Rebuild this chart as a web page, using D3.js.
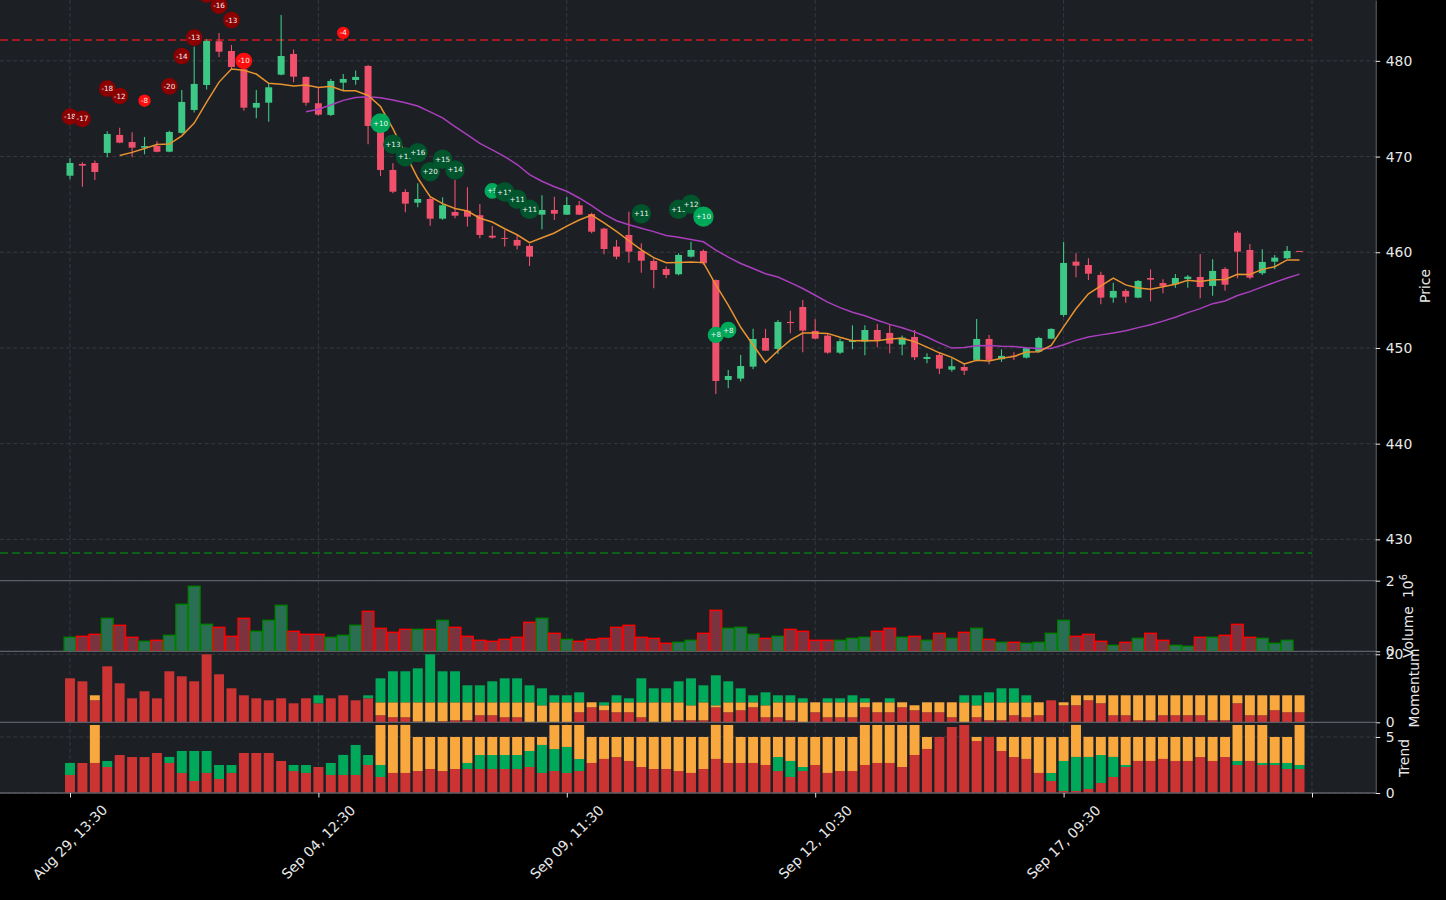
<!DOCTYPE html>
<html><head><meta charset="utf-8">
<script src="https://cdn.jsdelivr.net/npm/d3@7"></script>
<style>
body{margin:0;background:#000;}
svg{display:block;}
text{font-family:"DejaVu Sans",sans-serif;}
</style>
</head><body>
<svg id="chart" width="1446" height="900"></svg>
<script>
// ---------- DATA ----------
const opens=[468.0,469.23,469.33,470.38,472.26,471.52,470.93,471.1,470.51,472.47,474.87,477.48,482.05,481.03,479.12,475.11,475.63,478.56,480.72,478.32,
475.57,474.35,477.72,478.0,479.47,473.65,468.6,466.3,465.18,465.57,463.51,464.21,464.35,463.87,461.73,461.5,461.29,460.66,463.93,464.42,
463.93,464.91,464.0,462.47,460.59,461.81,460.14,459.09,458.25,457.7,459.54,460.14,457.1,446.66,446.8,448.05,451.04,449.9,452.72,454.28,
451.78,451.29,449.51,450.63,450.66,451.88,451.57,450.35,451.15,448.85,449.27,447.73,448.01,448.75,450.94,448.82,449.2,448.99,449.61,450.97,
453.45,459.02,458.67,457.63,455.26,455.96,455.26,457.31,456.79,456.66,457.21,457.42,456.48,458.26,462.05,460.24,457.81,459.02,459.37,460.14];
const highs=[469.82,469.4,469.6,472.64,473.0,472.54,472.05,471.6,472.7,476.96,481.48,482.26,482.9,481.66,479.4,476.96,477.6,484.8,481.2,478.4,
477.2,478.1,478.63,479.0,479.57,473.8,469.3,466.58,467.2,465.75,465.75,467.55,466.8,465.05,462.75,462.33,461.8,460.87,465.96,465.8,
465.8,465.36,464.14,462.57,461.29,464.24,460.94,459.37,458.5,459.9,461.11,460.3,457.15,447.7,449.27,452.0,452.0,452.93,453.9,455.0,
453.0,451.46,451.0,452.37,452.37,452.5,452.5,451.29,451.88,449.44,449.44,448.92,448.4,453.03,451.36,449.86,449.55,450.1,451.18,452.06,
461.08,459.9,459.37,457.97,456.82,456.17,457.1,458.22,457.18,457.73,457.63,459.82,459.27,458.43,462.23,460.87,460.31,459.72,460.66,460.14];
const lows=[467.63,466.85,467.55,469.93,471.4,469.93,470.24,470.45,470.45,472.4,474.6,477.0,480.4,479.05,474.8,474.0,473.65,478.5,477.76,475.3,
474.3,474.24,476.96,477.5,471.28,467.97,466.17,464.18,464.7,462.78,463.4,463.55,462.68,461.46,461.42,460.59,460.3,458.57,462.4,463.38,
463.9,463.9,461.98,459.79,459.27,458.91,457.87,456.24,457.28,457.6,459.45,458.7,445.19,445.8,446.5,447.77,449.7,449.37,451.54,449.55,
450.9,449.4,449.37,449.86,449.24,450.07,449.45,449.24,448.75,448.4,447.28,447.52,447.18,448.6,448.3,448.54,448.75,448.9,449.5,450.9,
453.27,457.39,457.1,454.57,454.73,454.73,455.2,454.88,455.72,456.3,456.3,455.19,455.46,455.99,457.28,457.18,457.63,458.22,459.3,460.06];
const closes=[469.33,469.05,468.39,472.36,471.45,470.93,471.1,470.5,472.57,475.71,477.59,482.08,480.96,479.36,475.11,475.6,477.24,480.51,478.35,475.63,
474.38,477.9,478.11,478.32,473.2,468.6,466.33,465.08,465.57,463.51,464.91,463.82,463.72,461.81,461.53,461.4,460.69,459.54,464.42,464.03,
464.94,463.93,462.15,460.34,459.54,460.06,459.12,458.15,457.63,459.72,460.24,458.85,446.55,447.07,448.11,450.94,449.72,452.72,452.6,451.81,
450.97,449.51,450.7,450.8,451.88,450.84,450.45,451.08,449.03,449.06,447.84,448.09,447.63,450.94,448.75,449.17,449.1,449.97,451.04,451.99,
458.88,458.6,457.76,455.26,455.96,455.36,457.0,457.14,456.48,457.31,457.45,456.37,458.05,456.61,460.06,457.35,458.99,459.44,460.14,460.06];
// volume in millions
const volumes=[0.396,0.424,0.481,0.934,0.736,0.396,0.283,0.311,0.452,1.331,1.841,0.764,0.679,0.424,0.934,0.566,0.877,1.302,0.566,0.481,
0.481,0.396,0.452,0.736,1.132,0.651,0.537,0.622,0.622,0.622,0.877,0.679,0.424,0.311,0.283,0.339,0.396,0.821,0.934,0.509,
0.339,0.283,0.339,0.367,0.679,0.736,0.396,0.367,0.226,0.254,0.311,0.509,1.16,0.651,0.679,0.481,0.367,0.424,0.622,0.566,
0.311,0.311,0.311,0.367,0.396,0.566,0.651,0.396,0.424,0.311,0.509,0.367,0.537,0.651,0.339,0.254,0.254,0.226,0.254,0.509,
0.877,0.424,0.481,0.283,0.169,0.254,0.367,0.509,0.311,0.169,0.141,0.396,0.396,0.452,0.764,0.396,0.367,0.226,0.311,0];
// momentum components (stack: red, orange, green)
const momRed=[12.94,12.06,6.47,16.47,11.47,7.06,9.12,7.06,15.0,13.53,12.06,20.0,14.12,10.0,7.94,7.06,6.47,7.06,5.59,7.06,
5.59,7.06,7.94,6.47,7.06,2.06,1.47,1.47,0.2,0,0.3,0.59,0.59,2.06,2.06,1.47,1.47,0,0,0,
0,2.94,4.41,3.53,2.94,2.94,1.47,0,0,0.59,0.59,0.59,4.41,2.94,3.53,4.41,1.47,1.47,0.59,0,
2.94,1.47,1.47,1.47,4.41,2.94,2.94,4.41,3.53,2.94,2.94,1.47,0,1.47,0.59,0.59,2.06,1.47,2.06,6.47,
5.0,5.0,6.47,5.59,2.06,2.06,0.59,0.59,2.06,2.06,2.06,2.06,0.59,0.59,5.59,2.06,2.06,3.53,2.94,2.94];
const momOrange=[0,0,1.47,0,0,0,0,0,0,0,0,0,0,0,0,0,0,0,0,0,
0,0,0,0,0,3.82,4.41,4.41,5.68,5.88,5.58,5.29,5.29,3.82,3.82,4.41,4.41,5.88,5.0,5.88,
5.88,2.94,1.47,1.47,2.94,2.94,4.41,5.88,5.88,5.29,4.41,5.29,0.59,2.94,2.35,1.47,3.53,4.41,5.29,5.88,
2.94,4.41,4.41,4.41,1.47,2.94,2.94,1.47,1.47,2.94,2.94,4.41,5.88,3.53,5.29,5.29,3.82,4.41,3.82,0,
0.88,2.94,1.47,2.35,5.88,5.88,7.35,7.35,5.88,5.88,5.88,5.88,7.35,7.35,2.35,5.88,5.88,4.41,5.0,5.0];
const momGreen=[0,0,0,0,0,0,0,0,0,0,0,0,0,0,0,0,0,0,0,0,
2.35,0,0,0,0.88,7.06,9.12,9.12,10.0,14.12,9.12,9.12,5.0,5.0,6.18,7.06,7.06,5.0,5.0,2.06,
2.06,2.94,0,0.88,2.06,1.18,7.06,4.12,4.12,6.18,7.94,5.0,8.82,6.18,4.12,2.06,3.82,2.06,2.06,1.18,
0,1.18,1.18,2.06,1.18,0,1.18,0,0,0,0,0,2.06,2.94,2.94,4.12,4.12,2.06,0,0,
0,0,0,0,0,0,0,0,0,0,0,0,0,0,0,0,0,0,0,0];
// trend components (stack: red, green, orange)
const trendRed=[1.61,2.68,2.68,2.32,3.39,3.21,3.21,3.57,2.68,1.79,1.07,1.79,1.25,1.79,3.57,3.57,3.57,2.86,1.96,1.79,
2.32,1.61,1.61,1.61,2.5,1.43,1.79,1.79,1.96,2.14,1.96,2.14,2.14,2.14,2.14,2.14,2.14,2.32,1.79,1.96,
1.79,1.96,2.68,3.04,3.21,2.86,2.32,2.14,2.14,1.96,1.79,2.14,3.04,2.68,2.68,2.68,2.5,1.96,1.43,1.96,
2.5,1.79,1.96,1.96,2.5,2.68,2.68,2.32,3.39,3.93,5.0,5.89,6.07,4.64,5.0,3.75,3.21,3.04,1.79,1.07,
0.18,0.18,0.36,0.89,1.43,2.32,2.86,2.86,3.04,2.86,2.86,3.21,2.86,3.21,2.5,2.86,2.5,2.5,2.14,2.14];
const trendGreen=[1.07,0,0,0.54,0,0,0,0,0.54,1.96,2.68,1.96,1.25,0.71,0,0,0,0,0.54,0.71,
0,1.07,1.79,2.68,0.89,1.07,0,0,0,0,0,0,0.54,1.25,1.25,1.25,1.25,1.43,2.5,1.96,
2.32,1.07,0,0,0,0,0,0,0,0,0,0,0,0,0,0,0,1.25,1.43,0.36,
0,0,0,0,0,0,0,0,0,0,0,0,0,0,0,0,0,0,0,0.71,
2.68,3.04,2.86,2.5,1.79,0.18,0,0,0,0,0,0,0,0,0.36,0,0.18,0.18,0.54,0.36];
const trendOrange=[0,0,3.39,0,0,0,0,0,0,0,0,0,0,0,0,0,0,0,0,0,
0,0,0,0,0,3.57,4.29,4.29,3.04,2.86,3.04,2.86,2.32,1.61,1.61,1.61,1.61,1.25,0.71,2.14,
1.96,3.04,2.32,1.96,1.79,2.14,2.68,2.86,2.86,3.04,3.21,2.86,3.04,3.39,2.32,2.32,2.5,1.79,2.14,2.68,
2.5,3.21,3.04,3.04,3.57,3.39,3.39,3.75,2.68,1.07,0,0,0,0.36,0,1.25,1.79,1.96,3.21,3.21,
2.14,2.86,1.79,1.61,1.79,2.5,2.14,2.14,1.96,2.14,2.14,1.79,2.14,1.79,3.21,3.21,3.39,2.32,2.32,3.57];
// signal markers
const sellIdx=[0,1,3,4,6,8,9,10,11,12,13,14,22];
const sellPrice=[474.17,473.93,477.1,476.33,475.84,477.34,480.51,482.42,486.95,485.77,484.27,479.99,482.92];
const sellLabel=["-18","-17","-18","-12","-8","-20","-14","-13","-15","-16","-13","-10","-4"];
const sellStrong=[0,0,0,0,1,0,0,0,0,0,0,1,1];
const sellSize=[144,144,144,144,80,144,144,144,144,144,144,144,80];
const buyIdx=[25,26,27,28,29,30,31,34,35,36,37,46,49,50,51,52,53];
const buyPrice=[473.48,471.29,469.99,470.41,468.42,469.72,468.6,466.41,466.3,465.54,464.49,464.03,464.49,465.02,463.72,451.36,451.88];
const buyLabel=["+10","+13","+11","+16","+20","+15","+14","+9","+11","+11","+11","+11","+13","+12","+10","+8","+8"];
const buyStrong=[1,0,0,0,0,0,0,1,0,0,0,0,0,0,1,1,1];
const buySize=[207,196,196,196,196,196,196,126,196,196,196,196,196,196,215,138,138];
// levels & ticks
const resistanceLevel=482.18, supportLevel=428.58;
const xTickIdx=[0,20,40,60,80,100];
const xTickLabels=["Aug 29, 13:30","Sep 04, 12:30","Sep 09, 11:30","Sep 12, 10:30","Sep 17, 09:30",""];
const priceTicks=[430,440,450,460,470,480];
const volTicks=[0,2], momTicks=[0,20], trendTicks=[0,5];

// ---------- LAYOUT ----------
const svg=d3.select("#chart");
const L=0, R=1375.7;
const P={top:0,bot:580.7}, V={top:580.7,bot:651.3}, M={top:651.3,bot:722.3}, T={top:722.3,bot:793};
const BG="#1c1f24", GRID="#3a3d43", SPINE="#5b5e64", TXT="#e8e8e8";
const UP="#3dc985", DN="#f0506c";
const cRed="#cc3434", cOrange="#f9a83d", cGreen="#00a85a";

svg.append("rect").attr("width",1446).attr("height",900).attr("fill","#000");
[P,V,M,T].forEach(p=>svg.append("rect").attr("x",L).attr("y",p.top).attr("width",R-L).attr("height",p.bot-p.top).attr("fill",BG));

const x=d3.scaleLinear().domain([-5.636,105.13]).range([L,R]);
const step=x(1)-x(0);
const y=d3.scaleLinear().domain([425.68,486.36]).range([P.bot,P.top]);
const yv=d3.scaleLinear().domain([0,2.0]).range([V.bot,V.top]);
const ym=d3.scaleLinear().domain([0,20.88]).range([M.bot,M.top]);
const yt=d3.scaleLinear().domain([0,6.31]).range([T.bot,T.top]);

const defs=svg.append("defs");
defs.append("clipPath").attr("id","clipP").append("rect").attr("x",L).attr("y",P.top).attr("width",R-L).attr("height",P.bot-P.top);

// grid
const g=svg.append("g");
[P,V,M,T].forEach(p=>{
  xTickIdx.forEach(t=>g.append("line").attr("x1",x(t)).attr("x2",x(t)).attr("y1",p.top).attr("y2",p.bot)
    .attr("stroke",GRID).attr("stroke-width",0.9).attr("stroke-dasharray","4,2.6"));
});
function hgrid(ticks,sc){ticks.forEach(v=>g.append("line").attr("x1",L).attr("x2",R).attr("y1",sc(v)).attr("y2",sc(v))
  .attr("stroke",GRID).attr("stroke-width",0.9).attr("stroke-dasharray","4,2.6"));}
hgrid(priceTicks,y); hgrid(volTicks,yv); hgrid(momTicks,ym); hgrid(trendTicks,yt);

// support / resistance
svg.append("line").attr("x1",L).attr("x2",x(100)).attr("y1",y(resistanceLevel)).attr("y2",y(resistanceLevel))
  .attr("stroke","#a01c1c").attr("stroke-width",2).attr("stroke-dasharray","8,4");
svg.append("line").attr("x1",L).attr("x2",x(100)).attr("y1",y(supportLevel)).attr("y2",y(supportLevel))
  .attr("stroke","#0c5e1a").attr("stroke-width",2).attr("stroke-dasharray","8,4");

// candles
const idx=d3.range(closes.length);
const cg=svg.append("g").attr("clip-path","url(#clipP)");
cg.selectAll("line.w").data(idx).join("line")
  .attr("x1",i=>x(i)).attr("x2",i=>x(i)).attr("y1",i=>y(highs[i])).attr("y2",i=>y(lows[i]))
  .attr("stroke",i=>closes[i]>=opens[i]?UP:DN).attr("stroke-width",1.1);
const bw=step*0.56;
cg.selectAll("rect.b").data(idx).join("rect")
  .attr("x",i=>x(i)-bw/2).attr("width",bw)
  .attr("y",i=>y(Math.max(opens[i],closes[i])))
  .attr("height",i=>Math.max(1,Math.abs(y(opens[i])-y(closes[i]))))
  .attr("fill",i=>closes[i]>=opens[i]?UP:DN);

// moving averages
function sma(n){return idx.map(i=>i<n-1?null:d3.mean(closes.slice(i-n+1,i+1)));}
const ma5=sma(5), ma20=sma(20);
const line=d3.line().defined(d=>d[1]!=null).x(d=>x(d[0])).y(d=>y(d[1]));
cg.append("path").attr("d",line(ma20.map((v,i)=>[i,v]))).attr("fill","none").attr("stroke","#aa3fbe").attr("stroke-width",1.5);
cg.append("path").attr("d",line(ma5.map((v,i)=>[i,v]))).attr("fill","none").attr("stroke","#e8932f").attr("stroke-width",1.5);

// signal markers
const rad=s=>Math.sqrt(s)/2*100/72;
function markers(ix,pr,lb,st,sz,cStrong,cWeak){
  const mg=cg.append("g");
  ix.forEach((i,k)=>{
    const gg=mg.append("g").attr("transform",`translate(${x(i)},${y(pr[k])})`);
    gg.append("circle").attr("r",rad(sz[k])).attr("fill",st[k]?cStrong:cWeak);
    gg.append("text").text(lb[k]).attr("text-anchor","middle").attr("dy","0.35em")
      .attr("fill","#f2f2f2").attr("font-size",7.2);
  });
}
markers(sellIdx,sellPrice,sellLabel,sellStrong,sellSize,"#ff0d0d","#8b0000");
markers(buyIdx,buyPrice,buyLabel,buyStrong,buySize,"#00a85a","#00552c");

// volume bars
const vw=step*0.94;
svg.append("g").selectAll("rect").data(idx.filter(i=>volumes[i]>0)).join("rect")
  .attr("x",i=>x(i)-vw/2).attr("width",vw)
  .attr("y",i=>yv(volumes[i])).attr("height",i=>yv(0)-yv(volumes[i]))
  .attr("fill",i=>closes[i]>=opens[i]?"#2a6f53":"#7c3340")
  .attr("stroke",i=>closes[i]>=opens[i]?"#008000":"#ff0000").attr("stroke-width",1.4);

// momentum stacked
const bw2=step*0.8;
function stacked(sc,layers){
  const gg=svg.append("g");
  idx.forEach(i=>{
    let base=0;
    layers.forEach(([arr,col])=>{
      const v=arr[i];
      if(v>0){gg.append("rect").attr("x",x(i)-bw2/2).attr("width",bw2)
        .attr("y",sc(base+v)).attr("height",sc(base)-sc(base+v)).attr("fill",col);}
      base+=v;
    });
  });
}
stacked(ym,[[momRed,cRed],[momOrange,cOrange],[momGreen,cGreen]]);
stacked(yt,[[trendRed,cRed],[trendGreen,cGreen],[trendOrange,cOrange]]);

// panel separators
[V.top,M.top,T.top,T.bot].forEach(yy=>svg.append("line").attr("x1",L).attr("x2",R).attr("y1",yy).attr("y2",yy)
  .attr("stroke",SPINE).attr("stroke-width",1.3));

// right axes
function rightAxis(sc,ticks,p){
  const a=svg.append("g").attr("transform",`translate(${R},0)`)
    .call(d3.axisRight(sc).tickValues(ticks).tickSize(4.5).tickPadding(5.5).tickSizeOuter(0).tickFormat(d3.format("d")));
  a.select(".domain").attr("stroke",SPINE).attr("stroke-width",1.2);
  a.selectAll(".tick line").attr("stroke",TXT);
  a.selectAll(".tick text").attr("fill",TXT).attr("font-size",13.9).attr("font-family","DejaVu Sans");
}
rightAxis(y,priceTicks,P); rightAxis(yv,volTicks,V); rightAxis(ym,momTicks,M); rightAxis(yt,trendTicks,T);

// axis labels
function vlabel(txt,bx,cy,anchor){
  return svg.append("text").attr("transform",`translate(${bx},${cy}) rotate(-90)`).attr("text-anchor",anchor||"middle")
    .attr("fill",TXT).attr("font-size",13.9).text(txt);
}
vlabel("Price",1430,286);
vlabel("Volume",1413,632);
const off=svg.append("text").attr("transform",`translate(1413,598) rotate(-90)`).attr("text-anchor","start")
  .attr("fill",TXT).attr("font-size",13.9);
off.append("tspan").text("10");
off.append("tspan").text("6").attr("font-size",9.7).attr("dy",-6);
vlabel("Momentum",1419,688);
vlabel("Trend",1409,758);

// x axis
const xa=svg.append("g").attr("transform",`translate(0,${T.bot})`)
  .call(d3.axisBottom(x).tickValues(xTickIdx).tickSize(4.5).tickSizeOuter(0).tickFormat(""));
xa.select(".domain").remove();
xa.selectAll(".tick line").attr("stroke",TXT);
xTickIdx.forEach((t,k)=>{
  if(!xTickLabels[k])return;
  svg.append("text").attr("transform",`translate(${x(t)},842) rotate(-45)`)
    .attr("text-anchor","middle").attr("dominant-baseline","central")
    .attr("fill",TXT).attr("font-size",13.9).text(xTickLabels[k]);
});
</script>
</body></html>
